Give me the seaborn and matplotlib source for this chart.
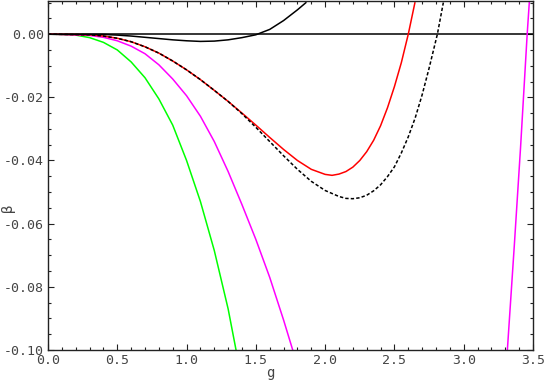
import matplotlib
matplotlib.use("Agg")
import matplotlib.pyplot as plt
import numpy as np
import pandas as pd
import seaborn as sns
from matplotlib.ticker import FuncFormatter, MultipleLocator

# ---------------------------
# DATA
# ---------------------------

green_g = [0.0, 0.2, 0.3, 0.4, 0.5, 0.6, 0.7, 0.8, 0.9, 1.0, 1.1, 1.2, 1.3, 1.357]
green_b = [0.0, -0.0003, -0.0011, -0.0026, -0.0050, -0.0088, -0.0138, -0.0205,
           -0.0288, -0.0400, -0.0530, -0.0685, -0.0870, -0.1000]

magenta_g = [0.0, 0.3, 0.4, 0.5, 0.6, 0.7, 0.8, 0.9, 1.0, 1.1, 1.2, 1.3, 1.4,
             1.5, 1.6, 1.7, 1.766]
magenta_b = [0.0, -0.0004, -0.0010, -0.0021, -0.0038, -0.0062, -0.0097, -0.0142,
             -0.0195, -0.0260, -0.0340, -0.0435, -0.0540, -0.0650, -0.0770,
             -0.0905, -0.1000]

# right-hand branch of the same curve
magenta2_g = [3.315, 3.365, 3.41, 3.45, 3.458, 3.474]
magenta2_b = [-0.1000, -0.0670, -0.0360, -0.0060, 0.0000, 0.0105]

red_g = [0.0, 0.3, 0.4, 0.5, 0.6, 0.7, 0.8, 0.9, 1.0, 1.1, 1.2, 1.3, 1.4, 1.5,
         1.6, 1.7, 1.8, 1.9, 2.0, 2.05, 2.1, 2.15, 2.2, 2.25, 2.3, 2.35, 2.4,
         2.45, 2.5, 2.55, 2.6, 2.648]
red_b = [0.0, -0.0002, -0.0006, -0.0013, -0.0024, -0.0040, -0.0060, -0.0085,
         -0.0113, -0.0144, -0.0178, -0.0213, -0.0250, -0.0288, -0.0327,
         -0.0365, -0.0400, -0.0428, -0.0444, -0.0447, -0.0443, -0.0435,
         -0.0421, -0.0400, -0.0372, -0.0336, -0.0290, -0.0233, -0.0166,
         -0.0090, 0.0000, 0.0100]

dashed_g = [0.0, 0.3, 0.4, 0.5, 0.6, 0.7, 0.8, 0.9, 1.0, 1.1, 1.2, 1.3, 1.4,
            1.5, 1.6, 1.7, 1.8, 1.9, 2.0, 2.1, 2.15, 2.2, 2.25, 2.3, 2.35,
            2.4, 2.45, 2.5, 2.55, 2.6, 2.65, 2.7, 2.75, 2.81, 2.853]
dashed_b = [0.0, -0.0002, -0.0006, -0.0013, -0.0024, -0.0040, -0.0060, -0.0085,
            -0.0113, -0.0144, -0.0178, -0.0213, -0.0252, -0.0295, -0.0340,
            -0.0385, -0.0428, -0.0466, -0.0495, -0.0514, -0.0520, -0.0521,
            -0.0518, -0.0510, -0.0496, -0.0477, -0.0451, -0.0420, -0.0376,
            -0.0325, -0.0265, -0.0192, -0.0108, 0.0000, 0.0100]

black_g = [0.0, 0.4, 0.5, 0.6, 0.7, 0.8, 0.9, 1.0, 1.1, 1.2, 1.3, 1.4, 1.5,
           1.6, 1.7, 1.8, 1.862]
black_b = [0.0, -0.0001, -0.0003, -0.0006, -0.0010, -0.0014, -0.0018, -0.0021,
           -0.0023, -0.0022, -0.0018, -0.0011, -0.0002, 0.0015, 0.0043,
           0.0077, 0.0100]

# ---------------------------
# PLOT
# ---------------------------

sns.set_style("ticks")
plt.rcParams["font.family"] = ["DejaVu Sans Mono", "DejaVu Sans"]

fig = plt.figure(figsize=(5.45, 3.82), dpi=100)
ax = fig.add_axes([48 / 545, 1 - 350 / 382, 485 / 545, 348.7 / 382])

ax.axhline(0.0, color="black", lw=1.1, zorder=1)

lw = 1.1
sns.lineplot(x=green_g, y=green_b, color="#00ff00", lw=lw, sort=False, ax=ax)
sns.lineplot(x=magenta_g, y=magenta_b, color="#ff00ff", lw=lw, sort=False, ax=ax)
sns.lineplot(x=magenta2_g, y=magenta2_b, color="#ff00ff", lw=lw, sort=False, ax=ax)
sns.lineplot(x=red_g, y=red_b, color="#ff0000", lw=lw, sort=False, ax=ax)
sns.lineplot(x=dashed_g, y=dashed_b, color="black", lw=lw, sort=False, ax=ax,
             linestyle=(0, (2.2, 1.4)))
sns.lineplot(x=black_g, y=black_b, color="black", lw=lw, sort=False, ax=ax)

ax.set_xlim(0.0, 3.5)
ax.set_ylim(-0.10, 0.0104)

ax.xaxis.set_major_locator(MultipleLocator(0.5))
ax.xaxis.set_minor_locator(MultipleLocator(0.1))
ax.yaxis.set_major_locator(MultipleLocator(0.02))
ax.yaxis.set_minor_locator(MultipleLocator(0.005))
ax.xaxis.set_major_formatter(FuncFormatter(lambda v, _: f"{round(v, 3) + 0.0:.1f}"))
ax.yaxis.set_major_formatter(FuncFormatter(lambda v, _: f"{round(v, 4) + 0.0:.2f}"))

ax.tick_params(which="both", direction="in", top=True, right=True,
               colors="#222222", labelcolor="#444444", labelsize=9.5, width=0.8)
ax.tick_params(which="major", length=4, pad=3)
ax.tick_params(which="minor", length=2)
for s in ax.spines.values():
    s.set_linewidth(1.0)
    s.set_color("#222222")

ax.set_xlabel("g", fontsize=10, color="#444444")
ax.set_ylabel("\u03b2", fontsize=10, color="#444444")
ax.xaxis.set_label_coords(0.458, -0.045)
ax.yaxis.label.set_va("center")
ax.yaxis.set_label_coords(-0.0825, 0.407)

fig.savefig("out.png", dpi=100)
